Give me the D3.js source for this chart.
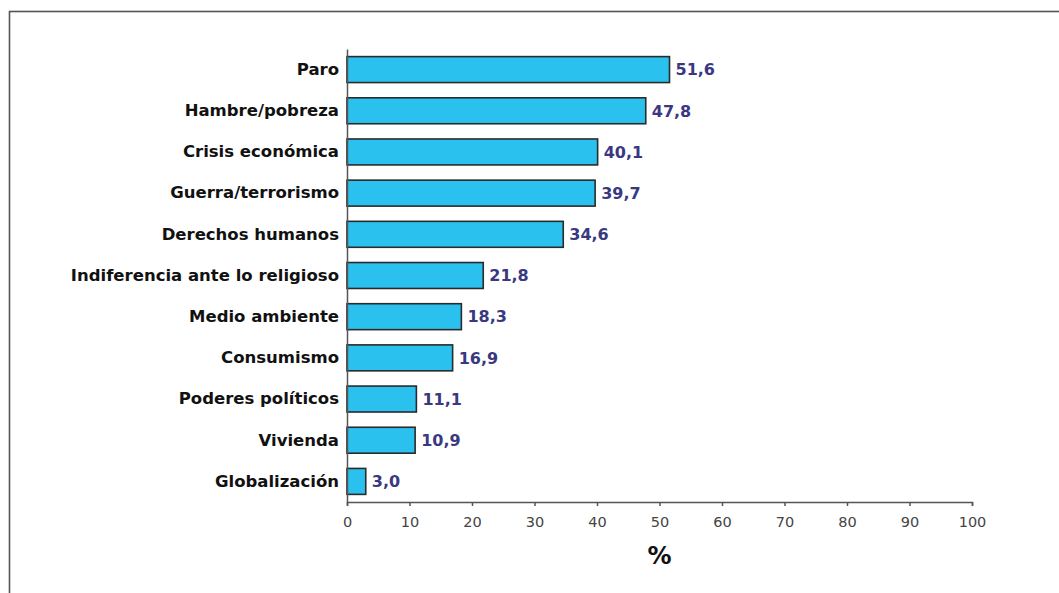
<!DOCTYPE html>
<html>
<head>
<meta charset="utf-8">
<script src="https://cdn.jsdelivr.net/npm/d3@7"></script>
<style>
  body { margin: 0; background: #fff; }
  svg { display: block; }
</style>
</head>
<body>
<div id="chart"></div>
<script>
// Data
var categories = ["Paro", "Hambre/pobreza", "Crisis económica", "Guerra/terrorismo",
  "Derechos humanos", "Indiferencia ante lo religioso", "Medio ambiente",
  "Consumismo", "Poderes políticos", "Vivienda", "Globalización"];
var values = [51.6, 47.8, 40.1, 39.7, 34.6, 21.8, 18.3, 16.9, 11.1, 10.9, 3.0];
var xTicks = [0, 10, 20, 30, 40, 50, 60, 70, 80, 90, 100];
var axisTitle = "%";

var W = 1059, H = 593;
var margin = {top: 49, left: 347, right: 87, bottom: 91};

var svg = d3.select("#chart").append("svg")
  .attr("width", W).attr("height", H);

// outer frame (runs off the right and bottom edges)
svg.append("rect")
  .attr("x", 9.5).attr("y", 11.5)
  .attr("width", W + 20).attr("height", H + 20)
  .attr("fill", "none")
  .attr("stroke", "#555")
  .attr("stroke-width", 1.6);

var x = d3.scaleLinear().domain([0, 100]).range([margin.left, W - margin.right]);
var y = d3.scaleBand().domain(categories)
  .range([margin.top, H - margin.bottom])
  .paddingInner(0.37).paddingOuter(0.185);

var fontFam = "Verdana, 'DejaVu Sans', sans-serif";

// bars
svg.selectAll(".bar")
  .data(categories)
  .enter().append("rect")
  .attr("class", "bar")
  .attr("x", x(0))
  .attr("y", function(d) { return y(d); })
  .attr("width", function(d, i) { return x(values[i]) - x(0); })
  .attr("height", y.bandwidth())
  .attr("fill", "#2bc1ef")
  .attr("stroke", "#2a2a2a")
  .attr("stroke-width", 1.6);

// value labels
svg.selectAll(".val")
  .data(categories)
  .enter().append("text")
  .attr("class", "val")
  .attr("x", function(d, i) { return x(values[i]) + 6; })
  .attr("y", function(d) { return y(d) + y.bandwidth() / 2; })
  .attr("dy", "0.36em")
  .style("font-family", fontFam)
  .style("font-weight", "bold")
  .style("font-size", "16px")
  .style("fill", "#3a3880")
  .text(function(d, i) { return values[i].toFixed(1).replace(".", ","); });

// y axis
var yAxis = svg.append("g")
  .attr("transform", "translate(" + x(0) + ",0)")
  .call(d3.axisLeft(y).tickSize(0).tickPadding(8));
yAxis.select(".domain").attr("stroke", "#555").attr("stroke-width", 1.5);
yAxis.selectAll("text")
  .style("font-family", fontFam)
  .style("font-weight", "bold")
  .style("font-size", "16.5px")
  .style("fill", "#111");

// x axis
var xAxis = svg.append("g")
  .attr("transform", "translate(0," + (H - margin.bottom) + ")")
  .call(d3.axisBottom(x).tickValues(xTicks).tickSize(4).tickSizeOuter(4).tickPadding(11));
xAxis.select(".domain").attr("stroke", "#555").attr("stroke-width", 1.5);
xAxis.selectAll(".tick line").attr("stroke", "#555").attr("stroke-width", 1.5);
xAxis.selectAll("text")
  .style("font-family", fontFam)
  .style("font-size", "14.5px")
  .style("fill", "#444");

// axis title
svg.append("text")
  .attr("x", x(50))
  .attr("y", 564)
  .attr("text-anchor", "middle")
  .style("font-family", fontFam)
  .style("font-weight", "bold")
  .style("font-size", "24px")
  .style("fill", "#111")
  .text(axisTitle);
</script>
</body>
</html>
